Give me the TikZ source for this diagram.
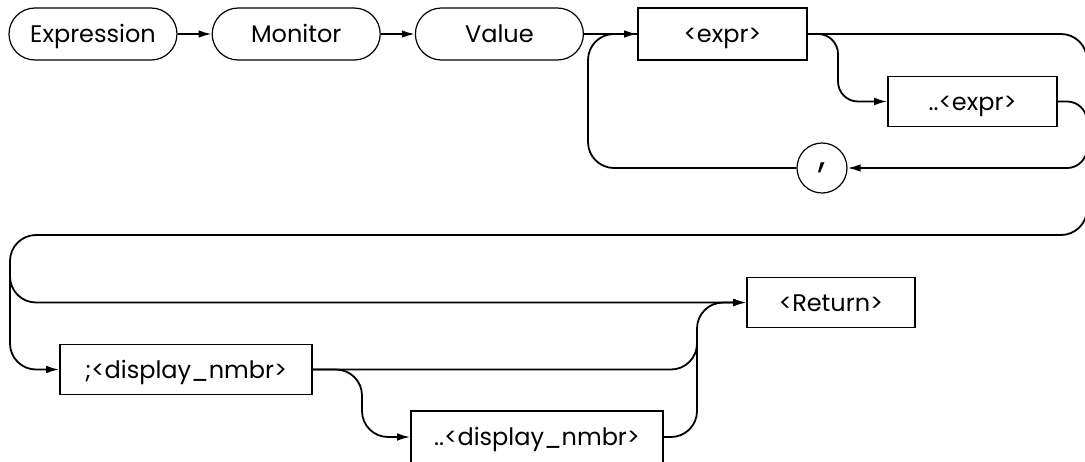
\documentclass[tikz,border=0pt]{standalone}
\usepackage{fontspec}
\setmainfont{Poppins}
\usepackage{tikz}
\usetikzlibrary{positioning,arrows.meta}

\begin{document}
\begin{tikzpicture}[
    x=0.5pt, y=-0.5pt,
    node distance=17pt,
    keyword/.style={rectangle, rounded corners=13pt, draw, line width=0.6pt,
        minimum width=84pt, minimum height=26pt, inner sep=0pt, text height=8.6pt, text depth=0pt,
        font=\fontsize{12}{14}\selectfont},
    param/.style={rectangle, draw, line width=0.8pt,
        minimum width=84.5pt, minimum height=25pt, inner sep=0pt, text height=8.6pt, text depth=0pt,
        font=\fontsize{12}{14}\selectfont},
    punct/.style={circle, draw, line width=0.6pt,
        minimum size=25pt, inner sep=0pt, font=\fontsize{19}{19}\selectfont},
    flow/.style={line width=0.9pt, rounded corners=13pt},
    tip/.style={-{Latex[length=6.5pt,width=3.8pt]}},
]
\useasboundingbox (0,0) rectangle (1085,461);

\node[keyword] (expr) at (93,34) {Expression};
\node[keyword, right=of expr] (mon) {Monitor};
\node[keyword, right=of mon] (val) {Value};
\node[param, minimum height=26pt] (ex) at (722.5,34) {<expr>};
\node[param] (rng) at (972.5,101.5) {..<expr>};
\node[punct] (com) at (822,168) {,};
\node[param, minimum width=84pt] (ret) at (831,302.5) {<Return>};
\node[param, minimum width=126pt] (dsp) at (186,369.5) {;<display\_nmbr>};
\node[param, minimum width=126pt, minimum height=26pt] (dsp2) at (537,437) {..<display\_nmbr>};

\coordinate (rgt) at (1087,0);
\coordinate (lft) at (10,0);
\coordinate (wrap) at (0,235);
\coordinate (split) at (10,275);
\coordinate (loopL) at (588,0);
\coordinate (xbr) at (838,0);
\coordinate (dbr) at (362,0);
\coordinate (jn) at (697,0);
\coordinate (jtop) at (697,335);

\draw[flow, tip] (expr) -- (mon);
\draw[flow, tip] (mon) -- (val);
\draw[flow, tip] (val) -- (ex);

\draw[flow, tip] (ex.east) -- (rgt |- ex.east) -- (rgt |- wrap) -- (lft |- wrap)
    -- (lft |- dsp.west) -- (dsp.west);
\draw[flow, tip, rounded corners=10pt] (ex.east) -- (xbr |- ex.east) -- (xbr |- rng.west) -- (rng.west);
\draw[flow, rounded corners=10pt] (rng.east) -- (rgt |- rng.east) -- (rgt |- com.east);
\draw[flow, tip, rounded corners=10pt] (rgt |- rng.east) -- (rgt |- com.east) -- (com.east);
\draw[flow] (com.west) -- (loopL |- com.west) -- (loopL |- ex.west) -- (ex.west);

\draw[flow, tip] (split) -- (lft |- ret.west) -- (ret.west);
\draw[flow, tip] (dsp.east) -- (jn |- dsp.east) -- (jn |- ret.west) -- (ret.west);
\draw[flow, tip] (dsp.east) -- (dbr |- dsp.east) -- (dbr |- dsp2.west) -- (dsp2.west);
\draw[flow] (dsp2.east) -- (jn |- dsp2.east) -- (jtop);
\end{tikzpicture}
\end{document}
